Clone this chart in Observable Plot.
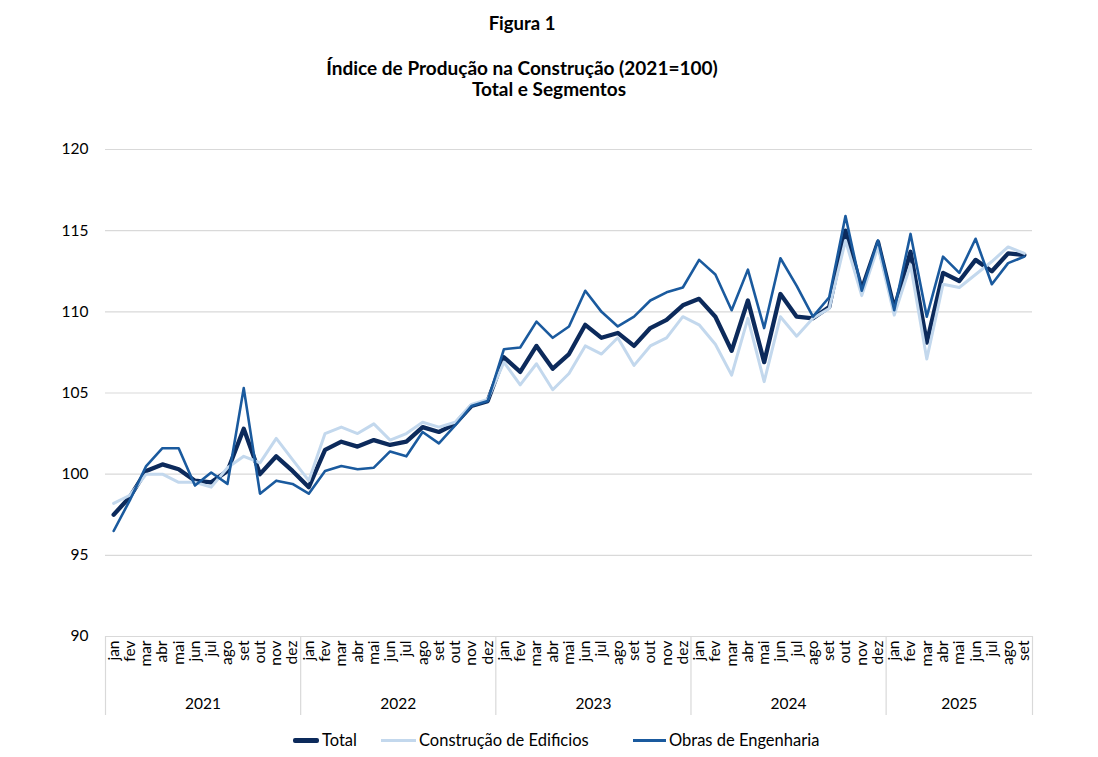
<!DOCTYPE html>
<html><head><meta charset="utf-8">
<script src="https://cdn.jsdelivr.net/npm/d3@7"></script>
<script src="https://cdn.jsdelivr.net/npm/@observablehq/plot@0.6"></script>
<style>
body{margin:0;background:#fff;font-family:Lato,"Open Sans",sans-serif;color:#000;}
.t{position:absolute;text-align:center;font-weight:bold;white-space:nowrap;line-height:23px;}
.lg{position:absolute;font-size:16.5px;white-space:nowrap;line-height:20px;}
.sw{position:absolute;}
#chart{position:absolute;left:0;top:130px;}
</style>
</head><body>
<div class="t" style="left:222px;width:600px;top:12px;font-size:18.5px;">Figura 1</div>
<div class="t" style="left:222px;width:600px;top:56px;font-size:19px;">Índice de Produção na Construção (2021=100)</div>
<div class="t" style="left:249px;width:600px;top:77px;font-size:19px;">Total e Segmentos</div>
<div id="chart"></div>
<div class="sw" style="left:293px;top:738px;width:26px;height:4.5px;background:#0c2a5b;border-radius:2px;"></div>
<div class="lg" style="left:322px;top:730px;">Total</div>
<div class="sw" style="left:381px;top:739px;width:35px;height:3px;background:#c3d8ed;"></div>
<div class="lg" style="left:419px;top:730px;">Construção de Edificios</div>
<div class="sw" style="left:633px;top:739px;width:33px;height:3px;background:#1a5a9e;"></div>
<div class="lg" style="left:669px;top:730px;">Obras de Engenharia</div>
<script>
const monthNames = ["jan","fev","mar","abr","mai","jun","jul","ago","set","out","nov","dez"];
const years = ["2021","2022","2023","2024","2025"];
const monthsPerYear = [12,12,12,12,9];
const yTicks = [90,95,100,105,110,115,120];

const total = [97.5,98.6,100.2,100.6,100.3,99.6,99.5,100.2,102.8,100.0,101.1,100.2,
 99.2,101.5,102.0,101.7,102.1,101.8,102.0,102.9,102.6,103.1,104.2,104.5,
 107.2,106.3,107.9,106.5,107.4,109.2,108.4,108.7,107.9,109.0,109.5,110.4,
 110.8,109.7,107.6,110.7,106.9,111.1,109.7,109.6,110.3,115.0,111.4,114.3,
 110.2,113.7,108.1,112.4,111.9,113.2,112.5,113.6,113.5];
const edificios = [98.2,98.7,100.0,100.0,99.5,99.5,99.2,100.4,101.1,100.7,102.2,100.9,
 99.6,102.5,102.9,102.5,103.1,102.1,102.5,103.2,102.9,103.2,104.3,104.6,
 106.9,105.5,106.8,105.2,106.2,107.9,107.4,108.4,106.7,107.9,108.4,109.7,
 109.2,108.0,106.1,109.6,105.7,109.7,108.5,109.6,110.2,114.4,111.0,114.0,
 109.8,112.9,107.1,111.7,111.5,112.3,113.1,114.0,113.6];
const obras = [96.5,98.4,100.5,101.6,101.6,99.3,100.1,99.4,105.3,98.8,99.6,99.4,
 98.8,100.2,100.5,100.3,100.4,101.4,101.1,102.6,101.9,103.0,104.2,104.5,
 107.7,107.8,109.4,108.4,109.1,111.3,110.0,109.1,109.7,110.7,111.2,111.5,
 113.2,112.3,110.1,112.6,109.0,113.3,111.6,109.7,110.9,115.9,111.3,114.4,
 110.1,114.8,109.7,113.4,112.4,114.5,111.7,113.0,113.4];

// build month table
const months = [];
years.forEach((y, yi) => {
  for (let m = 0; m < monthsPerYear[yi]; m++) months.push({i: months.length, m: monthNames[m], year: y});
});
const rows = months.map((d, i) => ({...d, total: total[i], edif: edificios[i], obras: obras[i]}));
const yearInfo = years.map(y => {
  const idx = months.filter(d => d.year === y).map(d => d.i);
  return {year: y, c: d3.mean(idx), start: d3.min(idx) - 0.5};
});
const bounds = yearInfo.map(d => d.start).concat([months.length - 0.5]);

const chart = Plot.plot({
  width: 1098,
  height: 600,
  marginTop: 19,
  marginBottom: 94,
  marginLeft: 105,
  marginRight: 66,
  style: {fontFamily: "Lato, 'Open Sans', sans-serif", fontSize: "15px", color: "#000", background: "#fff"},
  x: {type: "linear", domain: [-0.5, months.length - 0.5], axis: null},
  y: {domain: [90, 120], ticks: yTicks},
  marks: [
    Plot.ruleY(yTicks, {stroke: "#d9d9d9", strokeWidth: 1.2}),
    Plot.axisY({ticks: yTicks, tickSize: 0, tickPadding: 17, fontSize: 15.5, label: null}),
    Plot.ruleX(bounds, {x: d => d, insetTop: 487, insetBottom: -79, stroke: "#d9d9d9", strokeWidth: 1.2}),
    Plot.text(rows, {x: "i", text: "m", frameAnchor: "bottom", rotate: -90, textAnchor: "end", lineAnchor: "middle", dy: 4, fontSize: 15.5}),
    Plot.text(yearInfo, {x: "c", text: "year", frameAnchor: "bottom", dy: 68, lineAnchor: "middle", fontSize: 15.5}),
    Plot.line(rows, {x: "i", y: "total", stroke: "#0c2a5b", strokeWidth: 4.3, strokeLinejoin: "round"}),
    Plot.line(rows, {x: "i", y: "edif", stroke: "#c3d8ed", strokeWidth: 3, strokeLinejoin: "round"}),
    Plot.line(rows, {x: "i", y: "obras", stroke: "#1a5a9e", strokeWidth: 2.6, strokeLinejoin: "round"})
  ]
});
document.getElementById("chart").appendChild(chart);
</script>
</body></html>
